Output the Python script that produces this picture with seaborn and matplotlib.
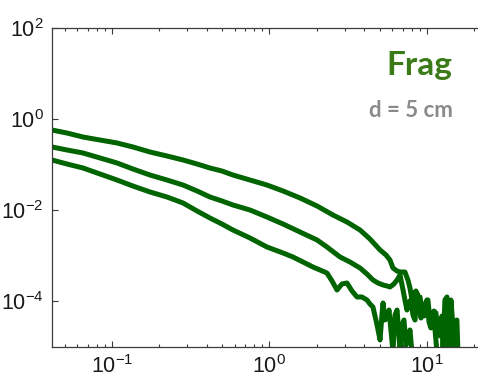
import numpy as np
import pandas as pd
import matplotlib
matplotlib.use("Agg")
import matplotlib.pyplot as plt
import seaborn as sns
from matplotlib.ticker import FixedLocator, NullLocator, LogLocator, NullFormatter

# ---- data (log10 values) ----
top_log_x = [-1.381, -1.286, -1.184, -1.076, -0.968, -0.867, -0.759, -0.651, -0.549, -0.460,
             -0.378, -0.302, -0.232, -0.124, -0.016, 0.086, 0.194, 0.302, 0.403, 0.492,
             0.575, 0.638, 0.702, 0.740, 0.765, 0.784, 0.810, 0.829, 0.860,
             0.879, 0.892, 0.905, 0.917, 0.930, 0.943, 0.956, 0.968, 0.981, 0.994,
             1.006, 1.019, 1.032, 1.044, 1.057, 1.070, 1.083, 1.095, 1.102, 1.114,
             1.127, 1.140, 1.152, 1.165, 1.178, 1.184, 1.190, 1.197]
top_log_y = [-0.242, -0.308, -0.396, -0.462, -0.527, -0.615, -0.725, -0.813, -0.901, -0.989,
             -1.077, -1.143, -1.231, -1.341, -1.451, -1.582, -1.736, -1.912, -2.110, -2.264,
             -2.440, -2.637, -2.879, -2.989, -3.099, -3.275, -3.341, -3.363, -3.363,
             -3.538, -3.714, -3.978, -3.824, -3.780, -3.978, -3.912, -4.242, -4.330, -4.022,
             -3.978, -4.418, -4.549, -4.220, -4.264, -4.681, -4.769, -4.330, -5.1, -3.978,
             -3.912, -5.15, -3.978, -4.549, -5.15, -4.462, -4.418, -5.15]

mid_log_x = [-1.381, -1.286, -1.184, -1.076, -0.968, -0.867, -0.759, -0.651, -0.549, -0.460,
             -0.378, -0.302, -0.232, -0.124, -0.016, 0.086, 0.194, 0.302, 0.365, 0.448,
             0.511, 0.575, 0.619, 0.657, 0.689, 0.721, 0.746, 0.765, 0.790, 0.810, 0.829,
             0.848, 0.860, 0.873, 0.886, 0.898, 0.911, 0.924, 0.937, 0.949, 0.962,
             0.975, 0.987, 1.0, 1.013, 1.025, 1.038, 1.051, 1.063]
mid_log_y = [-0.615, -0.681, -0.747, -0.857, -0.967, -1.099, -1.231, -1.341, -1.451, -1.582,
             -1.714, -1.802, -1.890, -2.0, -2.154, -2.308, -2.484, -2.659, -2.813, -3.033,
             -3.143, -3.275, -3.407, -3.538, -3.604, -3.648, -3.670, -3.692, -3.626, -3.538, -3.429,
             -3.758, -3.978, -4.198, -4.022, -3.978, -4.308, -4.418, -3.824, -4.088, -4.374,
             -4.198, -4.088, -3.978, -4.462, -4.593, -4.308, -4.637, -5.1]

bot_log_x = [-1.381, -1.286, -1.184, -1.076, -0.968, -0.867, -0.759, -0.651, -0.549, -0.460,
             -0.378, -0.302, -0.232, -0.124, -0.016, 0.086, 0.149, 0.213, 0.276, 0.321,
             0.365, 0.397, 0.429, 0.460, 0.492, 0.524, 0.556, 0.587, 0.619, 0.638, 0.657, 0.683,
             0.702, 0.714, 0.721, 0.733, 0.746, 0.759, 0.771, 0.784, 0.797, 0.810,
             0.822, 0.829, 0.841, 0.854, 0.867, 0.879, 0.892, 0.905]
bot_log_y = [-0.901, -0.989, -1.077, -1.209, -1.341, -1.473, -1.604, -1.714, -1.846, -2.022,
             -2.176, -2.308, -2.440, -2.615, -2.813, -2.945, -3.033, -3.143, -3.253, -3.319,
             -3.385, -3.560, -3.758, -3.626, -3.604, -3.780, -3.912, -3.912, -3.978, -4.066, -4.132, -4.527,
             -4.857, -4.308, -4.044, -4.418, -4.374, -4.198, -4.637, -5.1, -4.308, -4.198,
             -4.747, -5.1, -4.527, -4.418, -4.967, -4.857, -4.637, -5.15]

y_tick_values = [1e2, 1e0, 1e-2, 1e-4]
y_tick_labels = [r"$\mathregular{10^{2}}$", r"$\mathregular{10^{0}}$",
                 r"$\mathregular{10^{-2}}$", r"$\mathregular{10^{-4}}$"]
x_tick_values = [1e-1, 1e0, 1e1]
x_tick_labels = [r"$\mathregular{10^{-1}}$", r"$\mathregular{10^{0}}$", r"$\mathregular{10^{1}}$"]

title_text = "Frag"
subtitle_text = "d = 5 cm"

# ---- build a long table ----
frames = []
for name, lx, ly in [("top", top_log_x, top_log_y), ("mid", mid_log_x, mid_log_y),
                     ("bot", bot_log_x, bot_log_y)]:
    frames.append(pd.DataFrame({"x": 10 ** np.array(lx), "y": 10 ** np.array(ly),
                                "series": name}))
df = pd.concat(frames, ignore_index=True)

sns.set_theme(style="white")
plt.rcParams["font.family"] = ["Liberation Sans", "DejaVu Sans"]
plt.rcParams["mathtext.fontset"] = "custom"
plt.rcParams["mathtext.rm"] = "Liberation Sans"
plt.rcParams["mathtext.it"] = "Liberation Sans:italic"
plt.rcParams["mathtext.bf"] = "Liberation Sans:bold"

W, H = 478, 381
fig = plt.figure(figsize=(W / 100, H / 100), dpi=100)
left_px, right_px, top_px, bot_px = 52, 478, 28, 346.5
ax = fig.add_axes([left_px / W, 1 - bot_px / H, (right_px - left_px) / W, (bot_px - top_px) / H])

green = "#006400"
sns.lineplot(data=df, x="x", y="y", hue="series", units="series", estimator=None, sort=False,
             palette={"top": green, "mid": green, "bot": green}, linewidth=3.6,
             legend=False, ax=ax)

ax.set_xscale("log")
ax.set_yscale("log")
ax.set_xlim(10 ** -1.381, 10 ** 1.324)
ax.set_ylim(1e-5, 1e2)

ax.xaxis.set_major_locator(FixedLocator(x_tick_values))
ax.set_xticklabels(x_tick_labels)
ax.xaxis.set_minor_locator(LogLocator(base=10, subs=np.arange(2, 10)))
ax.xaxis.set_minor_formatter(NullFormatter())
ax.yaxis.set_major_locator(FixedLocator(y_tick_values))
ax.set_yticklabels(y_tick_labels)
ax.yaxis.set_minor_locator(NullLocator())

ax.set_xlabel("")
ax.set_ylabel("")

for s in ["left", "top", "bottom"]:
    ax.spines[s].set_visible(True)
    ax.spines[s].set_color("#3a3a3a")
    ax.spines[s].set_linewidth(0.9)
ax.spines["right"].set_visible(False)

ax.tick_params(axis="x", which="both", direction="in", top=True, bottom=True,
               color="#3a3a3a", width=0.8, labelsize=15.5, pad=6, labelcolor="#1a1a1a")
ax.tick_params(axis="x", which="major", length=4)
ax.tick_params(axis="x", which="minor", length=2.5)
ax.tick_params(axis="y", which="major", direction="in", left=True, right=False, length=4,
               color="#3a3a3a", width=0.8, labelsize=15.5, pad=6, labelcolor="#1a1a1a")

fig.text(452 / W, 1 - 75 / H, title_text, ha="right", va="baseline", fontsize=24,
         fontweight="bold", color="#3a7a17", family=["Lato", "DejaVu Sans"])
fig.text(453 / W, 1 - 117 / H, subtitle_text, ha="right", va="baseline", fontsize=16,
         fontweight="bold", color="#8a8a8a", family=["Lato", "DejaVu Sans"])

fig.savefig("out.png", dpi=100)
